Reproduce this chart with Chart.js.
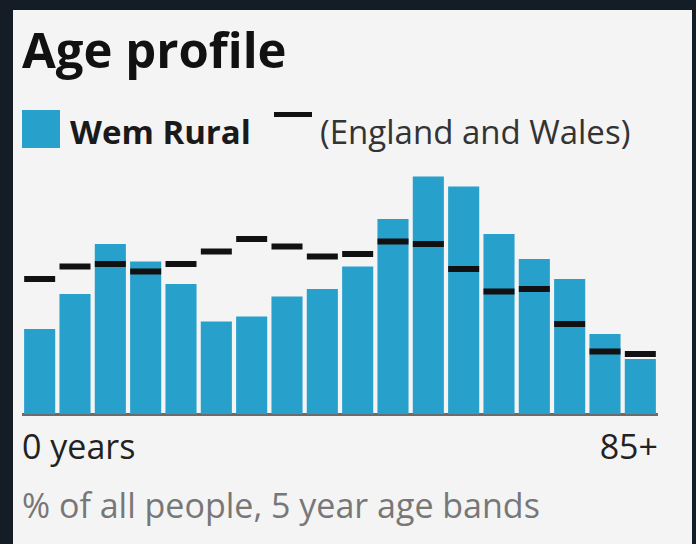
<!DOCTYPE html>
<html lang="en">
<head>
  <meta charset="UTF-8">
  <title>Age profile</title>
  <script src="https://cdn.jsdelivr.net/npm/chart.js"></script>
  <style>
    body {
      margin: 0;
      width: 696px;
      height: 544px;
      background: #141c26;
      font-family: "Open Sans", Arial, sans-serif;
      overflow: hidden;
      position: relative;
    }
    .card {
      position: absolute;
      left: 13px;
      top: 10px;
      width: 679px;
      height: 534px;
      background: #f4f4f4;
    }
    .abs { position: absolute; white-space: nowrap; }
    h2 {
      margin: 0;
      left: 22px;
      top: 25px;
      font-size: 49px;
      line-height: 49px;
      font-weight: 700;
      color: #111;
    }
    .legend {
      left: 22px;
      top: 110px;
      height: 38px;
      font-size: 33px;
      line-height: 33px;
    }
    .swatch {
      position: absolute;
      left: 0;
      top: 0;
      width: 38px;
      height: 38px;
      background: #27a0cc;
    }
    .dash {
      position: absolute;
      left: 252px;
      top: 2px;
      width: 38px;
      height: 5px;
      background: #111;
    }
    .wem { position: absolute; left: 48px; top: 5px; font-weight: 700; color: #1a1a1a; }
    .ew { position: absolute; left: 298px; top: 5px; color: #333; }
    .tick { font-size: 34px; line-height: 34px; color: #222; top: 429px; }
    .note { font-size: 34px; line-height: 34px; color: #777; left: 22px; top: 488px; }
    #chartWrap {
      position: absolute;
      left: 22px;
      top: 164px;
      width: 636px;
      height: 254px;
    }
  </style>
</head>
<body>
  <div class="card"></div>
  <h2 class="abs">Age profile</h2>
  <div class="abs legend">
    <span class="swatch"></span><span class="wem">Wem Rural</span>
    <span class="dash"></span><span class="ew">(England and Wales)</span>
  </div>
  <div id="chartWrap"><canvas id="ageChart" width="636" height="254"></canvas></div>
  <div class="abs tick" id="tickFirst" style="left:22px"></div>
  <div class="abs tick" id="tickLast" style="right:38px"></div>
  <div class="abs note">% of all people, 5 year age bands</div>

  <script>
    const ageBands = ['0-4', '5-9', '10-14', '15-19', '20-24', '25-29', '30-34', '35-39', '40-44',
      '45-49', '50-54', '55-59', '60-64', '65-69', '70-74', '75-79', '80-84', '85+'];
    const wemRural = [3.4, 4.8, 6.8, 6.1, 5.2, 3.7, 3.9, 4.7, 5.0, 5.9, 7.8, 9.5, 9.1, 7.2, 6.2, 5.4, 3.2, 2.2];
    const englandWales = [5.4, 5.9, 6.0, 5.7, 6.0, 6.5, 7.0, 6.7, 6.3, 6.4, 6.9, 6.8, 5.8, 4.9, 5.0, 3.6, 2.5, 2.4];
    const axisEnds = ['0 years', '85+'];

    document.getElementById('tickFirst').textContent = axisEnds[0];
    document.getElementById('tickLast').textContent = axisEnds[1];

    const ctx = document.getElementById('ageChart').getContext('2d');
    new Chart(ctx, {
      type: 'bar',
      data: {
        labels: ageBands,
        datasets: [
          {
            // national comparison drawn as short black dashes on top of the bars
            type: 'line',
            label: '(England and Wales)',
            data: englandWales,
            showLine: false,
            pointStyle: 'line',
            pointRadius: 15.5,
            pointBorderWidth: 6,
            pointBorderColor: '#111',
            pointBackgroundColor: '#111',
            clip: false,
            order: 0
          },
          {
            label: 'Wem Rural',
            data: wemRural,
            backgroundColor: '#27a0cc',
            categoryPercentage: 1,
            barPercentage: 0.88,
            order: 1
          }
        ]
      },
      options: {
        responsive: false,
        animation: false,
        events: [],
        layout: { autoPadding: false, padding: { bottom: 4 } },
        scales: {
          x: {
            display: true,
            z: 1,
            grid: { display: false, drawTicks: false },
            ticks: { display: false },
            border: { display: true, color: '#6b6b6b', width: 3 }
          },
          y: {
            display: false,
            min: 0,
            max: 10
          }
        },
        plugins: {
          legend: { display: false },
          tooltip: { enabled: false }
        }
      }
    });
  </script>
</body>
</html>
